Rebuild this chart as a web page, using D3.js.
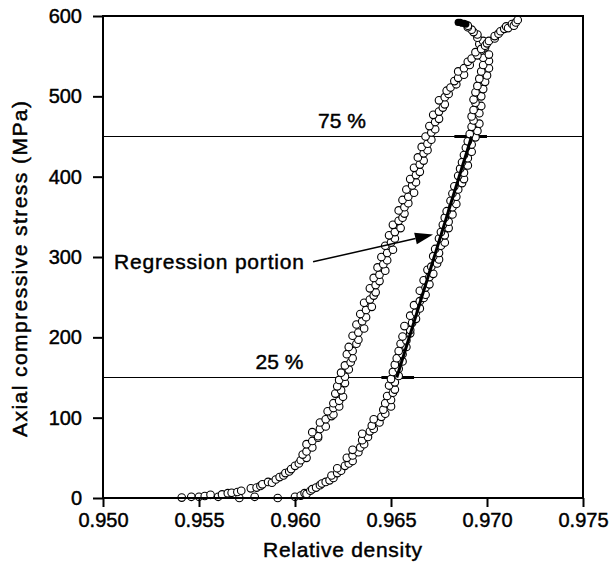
<!DOCTYPE html>
<html>
<head>
<meta charset="utf-8">
<script src="https://cdn.jsdelivr.net/npm/d3@7"></script>
<style>
body { margin: 0; background: #fff; }
text { font-family: "Liberation Sans", Arial, Helvetica, sans-serif; fill: #000; stroke: #000; stroke-width: 0.45px; }
</style>
</head>
<body>
<div id="holder"></div>
<script>
const w = 612;
const h = 572;
const margin = { left: 103, top: 16, right: 29, bottom: 74 };

// DATA (relative density, axial stress MPa)
const xTicks = [0.950, 0.955, 0.960, 0.965, 0.970, 0.975];
const yTicks = [0, 100, 200, 300, 400, 500, 600];

// left branch of the loop
const branchLeft = [
  [0.9541,0.5],[0.9546,1.5],[0.9550,1.5],[0.9553,2.5],[0.9556,4],[0.9560,1.5],[0.9562,4.5],[0.9565,6],[0.9567,6.5],[0.9570,7.5],
  [0.9572,9],[0.9577,12],[0.9580,13],[0.9582,15],[0.9583,17],[0.9586,20],[0.9588,19],[0.9590,23],[0.9592,26],[0.9594,28],
  [0.9595,31],[0.9597,33],[0.9598,36],[0.9600,40],[0.9602,43],[0.9603,47],[0.9606,50],[0.9604,54],[0.9606,58],[0.9609,63],
  [0.9606,67],[0.9609,71],[0.9612,75],[0.9612,77],[0.9609,82],[0.9613,86],[0.9616,89],[0.9613,94],[0.9616,98],[0.9619,102],
  [0.9620,104],[0.9617,108],[0.9620,112],[0.9623,114],[0.9620,118],[0.9623,121],[0.9625,126],[0.9621,130],[0.9624,134],[0.9622,139],
  [0.9626,143],[0.9623,147],[0.9626,151],[0.9624,156],[0.9628,160],[0.9626,165],[0.9629,169],[0.9630,174],[0.9627,179],[0.9630,183],
  [0.9628,188],[0.9632,192],[0.9633,197],[0.9630,202],[0.9633,206],[0.9636,211],[0.9632,216],[0.9635,220],[0.9637,225],[0.9634,229],
  [0.9637,234],[0.9640,238],[0.9636,243],[0.9639,247],[0.9641,252],[0.9642,256],[0.9639,261],[0.9642,265],[0.9644,270],[0.9641,274],
  [0.9644,278],[0.9647,283],[0.9643,287],[0.9646,291],[0.9648,296],[0.9645,300],[0.9648,305],[0.9651,309],[0.9647,314],[0.9650,318],
  [0.9652,323],[0.9649,327],[0.9652,331],[0.9655,336],[0.9651,340],[0.9654,345],[0.9656,349],[0.9657,354],[0.9654,358],[0.9657,362],
  [0.9659,367],[0.9656,371],[0.9659,375],[0.9662,380],[0.9658,384],[0.9661,389],[0.9663,393],[0.9660,397],[0.9663,402],[0.9665,406],
  [0.9662,411],[0.9665,415],[0.9667,420],[0.9664,424],[0.9667,429],[0.9669,433],[0.9666,437],[0.9669,441],[0.9671,446],[0.9668,450],
  [0.9671,455],[0.9673,459],[0.9670,463],[0.9673,468],[0.9675,472],[0.9672,477],[0.9675,481],[0.9677,486],[0.9678,490],[0.9675,495],
  [0.9678,499],[0.9680,503],[0.9679,507],[0.9681,511],[0.9684,515],[0.9683,519],[0.9685,523],[0.9688,527],[0.9685,531],[0.9688,535],
  [0.9691,539],[0.9690,543],[0.9692,547],[0.9695,551],[0.9694,555],[0.9697,559],[0.9699,563],[0.9700,566],[0.9701,569],[0.9704,572],
  [0.9704,575],[0.9706,578],[0.9707,581],[0.9709,584],[0.9710,587],[0.9711,585],[0.9713,590],[0.9714,588],[0.9715,592],[0.9716,595]
];

// right branch of the loop (the one used for the regression)
const branchRight = [
  [0.9571,0],[0.9579,1.5],[0.9591,0],[0.9600,1.5],[0.9603,3],[0.9605,6],[0.9606,5],[0.9608,9],[0.9609,11],[0.9611,13],
  [0.9613,16],[0.9614,18],[0.9616,20],[0.9618,22],[0.9620,25],[0.9619,28],[0.9622,31],[0.9624,34],[0.9622,37],[0.9626,40],
  [0.9628,43],[0.9630,46],[0.9627,50],[0.9630,53],[0.9633,57],[0.9630,60],[0.9634,63],[0.9636,67],[0.9635,72],[0.9638,76],
  [0.9635,80],[0.9639,83],[0.9641,86],[0.9640,90],[0.9644,94],[0.9641,98],[0.9645,101],[0.9647,105],[0.9646,110],[0.9650,114],
  [0.9647,118],[0.9650,122],[0.9648,127],[0.9651,131],[0.9652,135],[0.9649,140],[0.9652,144],[0.9650,148],[0.9654,152],[0.9651,157],
  [0.9654,161],[0.9652,166],[0.9656,170],[0.9653,174],[0.9656,179],[0.9654,183],[0.9658,188],[0.9655,192],[0.9658,196],[0.9656,201],
  [0.9660,205],[0.9660,209],[0.9657,214],[0.9661,218],[0.9663,223],[0.9660,227],[0.9663,231],[0.9665,236],[0.9662,240],[0.9665,245],
  [0.9667,249],[0.9668,253],[0.9665,258],[0.9668,262],[0.9670,266],[0.9667,271],[0.9670,275],[0.9672,279],[0.9669,284],[0.9671,288],
  [0.9674,292],[0.9675,297],[0.9672,301],[0.9675,305],[0.9673,310],[0.9676,314],[0.9678,318],[0.9675,323],[0.9678,327],[0.9676,331],
  [0.9680,336],[0.9677,340],[0.9680,344],[0.9678,349],[0.9682,353],[0.9679,357],[0.9682,362],[0.9684,366],[0.9681,370],[0.9684,375],
  [0.9682,379],[0.9685,384],[0.9683,388],[0.9687,392],[0.9688,397],[0.9685,401],[0.9688,405],[0.9686,410],[0.9690,414],[0.9687,418],
  [0.9690,423],[0.9688,427],[0.9692,431],[0.9689,436],[0.9692,440],[0.9690,444],[0.9694,449],[0.9691,453],[0.9695,457],[0.9692,462],
  [0.9696,466],[0.9693,470],[0.9692,475],[0.9696,479],[0.9693,483],[0.9697,488],[0.9694,492],[0.9693,496],[0.9697,500],[0.9694,505],
  [0.9698,509],[0.9695,513],[0.9699,518],[0.9696,522],[0.9700,526],[0.9697,531],[0.9701,535],[0.9698,539],[0.9701,544],[0.9698,548],
  [0.9701,552],[0.9697,557],[0.9699,561],[0.9696,565],[0.9698,569],[0.9695,573],[0.9695,577],[0.9693,580],[0.9692,583],[0.9690,586],
  [0.9690,588]
];

// last points at peak load, drawn filled
const peakPoints = [[0.9689,590],[0.9688,591],[0.9687,591],[0.9686,592],[0.9685,592]];

// regression portion (25 % to 75 % of peak stress)
const regression = [[0.9653,150],[0.9692,450]];
const levelLines = [150, 450];
const levelLabels = ["25 %", "75 %"];
const levelLabelX = [0.95919, 0.96245];
const levelBands = [[0.9645, 0.9662], [0.9683, 0.9700]];

// CREATE SVG
const svg = d3.select("#holder")
    .append("svg")
    .attr("width", w)
    .attr("height", h)

const xScale = d3.scaleLinear()
    .domain([0.950, 0.975])
    .range([margin.left, w - margin.right])

const yScale = d3.scaleLinear()
    .domain([0, 600])
    .range([h - margin.bottom, margin.top])

// 25 % / 75 % LINES
svg.selectAll(".level")
    .data(levelLines)
    .enter()
    .append("line")
    .attr("x1", xScale(0.950))
    .attr("x2", xScale(0.975))
    .attr("y1", d => yScale(d))
    .attr("y2", d => yScale(d))
    .attr("stroke", "#000")
    .attr("stroke-width", 1.2)

svg.selectAll(".band")
    .data(levelBands)
    .enter()
    .append("line")
    .attr("x1", d => xScale(d[0]))
    .attr("x2", d => xScale(d[1]))
    .attr("y1", (d, i) => yScale(levelLines[i]))
    .attr("y2", (d, i) => yScale(levelLines[i]))
    .attr("stroke", "#000")
    .attr("stroke-width", 3)

svg.selectAll(".lvl-label")
    .data(levelLabels)
    .enter()
    .append("text")
    .attr("x", (d, i) => xScale(levelLabelX[i]))
    .attr("y", (d, i) => yScale(levelLines[i]) - 9)
    .attr("text-anchor", "middle")
    .style("font-size", "21px")
    .text(d => d)

// DOTS
const pts = branchRight.concat(branchLeft);
svg.selectAll(".dot")
    .data(pts)
    .enter()
    .append("circle")
    .attr("cx", d => xScale(d[0]))
    .attr("cy", d => yScale(d[1]))
    .attr("r", 3.8)
    .attr("fill", "#fff")
    .attr("stroke", "#000")
    .attr("stroke-width", 1.1)

svg.selectAll(".peak")
    .data(peakPoints)
    .enter()
    .append("circle")
    .attr("cx", d => xScale(d[0]))
    .attr("cy", d => yScale(d[1]))
    .attr("r", 3.6)
    .attr("fill", "#000")

// REGRESSION LINE
svg.append("line")
    .attr("x1", xScale(regression[0][0]))
    .attr("y1", yScale(regression[0][1]))
    .attr("x2", xScale(regression[1][0]))
    .attr("y2", yScale(regression[1][1]))
    .attr("stroke", "#000")
    .attr("stroke-width", 3)

// ARROW + LABEL
const arrowFrom = [0.96094, 294];
const arrowTo = [0.96719, 328];
const ax1 = xScale(arrowFrom[0]), ay1 = yScale(arrowFrom[1]);
const ax2 = xScale(arrowTo[0]), ay2 = yScale(arrowTo[1]);
const ang = Math.atan2(ay2 - ay1, ax2 - ax1);
const headLen = 18, headW = 6;
const bx = ax2 - headLen * Math.cos(ang), by = ay2 - headLen * Math.sin(ang);

svg.append("line")
    .attr("x1", ax1).attr("y1", ay1)
    .attr("x2", bx).attr("y2", by)
    .attr("stroke", "#000")
    .attr("stroke-width", 1.5)

svg.append("polygon")
    .attr("points", [
        [ax2, ay2],
        [bx - headW * Math.sin(ang), by + headW * Math.cos(ang)],
        [bx + headW * Math.sin(ang), by - headW * Math.cos(ang)]
    ].map(p => p.join(",")).join(" "))
    .attr("fill", "#000")

svg.append("text")
    .attr("x", xScale(0.95057))
    .attr("y", yScale(284.7))
    .attr("textLength", 190)
    .style("font-size", "21px")
    .text("Regression portion")

// AXES
const xAxis = d3.axisBottom(xScale)
    .tickValues(xTicks)
    .tickFormat(d3.format(".3f"))
    .tickSize(9)
    .tickPadding(6)

const yAxis = d3.axisLeft(yScale)
    .tickValues(yTicks)
    .tickFormat(d3.format("d"))
    .tickSize(10)
    .tickPadding(11)

svg.append("g")
    .attr("transform", "translate(0," + (h - margin.bottom) + ")")
    .call(xAxis)

svg.append("g")
    .attr("transform", "translate(" + margin.left + ",0)")
    .call(yAxis)

svg.selectAll(".domain").remove()
svg.selectAll(".tick line").attr("stroke", "#000").attr("stroke-width", 2)
svg.selectAll(".tick text")
    .style("font-size", "20px")
    .style("font-family", "'Liberation Sans', Arial, sans-serif")
    .attr("fill", "#000")

// FRAME
svg.append("rect")
    .attr("x", xScale(0.950))
    .attr("y", yScale(600))
    .attr("width", xScale(0.975) - xScale(0.950))
    .attr("height", yScale(0) - yScale(600))
    .attr("fill", "none")
    .attr("stroke", "#000")
    .attr("stroke-width", 2)

// AXIS TITLES
svg.append("text")
    .attr("x", 342.5)
    .attr("y", 557)
    .attr("text-anchor", "middle")
    .attr("textLength", 159)
    .style("font-size", "21px")
    .text("Relative density")

svg.append("text")
    .attr("transform", "translate(27,269) rotate(-90)")
    .attr("text-anchor", "middle")
    .attr("textLength", 336)
    .style("font-size", "21px")
    .text("Axial compressive stress (MPa)")
</script>
</body>
</html>
